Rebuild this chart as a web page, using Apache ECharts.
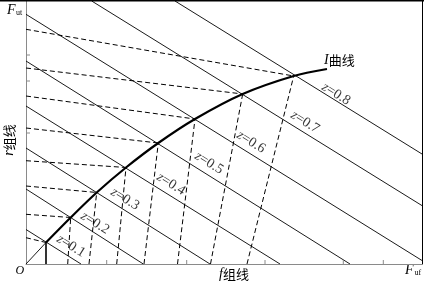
<!DOCTYPE html>
<html><head><meta charset="utf-8">
<script src="https://cdn.jsdelivr.net/npm/echarts@6/dist/echarts.min.js"></script>
<style>html,body{margin:0;padding:0;background:#fff}#c{width:424px;height:288px}</style>
</head><body><div id="c"></div>
<script>
// z values of the family of parallel lines
const zValues = ['0.1','0.2','0.3','0.4','0.5','0.6','0.7','0.8'];
// I-curve points (intersection with each z line)
const curveX = [20, 44.7, 70.7, 100, 132.3, 169, 216.7, 267.7];
const curveY = [21.5, 46.5, 71.5, 96.5, 121, 145, 170, 188];
const curveEnd = [301, 195];
// f-group line feet on the horizontal axis
const fFootX = [20, 41.7, 63, 90.7, 118, 151.5, 184.5, 221];
// r-group line feet on the vertical axis
const rFootY = [26.3, 49.7, 78, 103.3, 136, 168, 196, 234.7];
// z lines: start and end points
const zStart = [[0,34.5],[0,75],[0,116],[0,158],[0,203],[0,249.7],[65.7,263],[149,263]];
const zEnd = [[55,0],[117.3,0],[184,0],[254,0],[324,0],[396,3.5],[396,58.4],[396,110]];
// z label anchor points
const zLabelPos = [[45,18],[69,41],[99,65],[145,80],[183,101],[225,122],[279,142],[310,170]];
// tick marks on axes
const xTicks = [80.7,160.7,239,317.3,357.3];
const yTicks = [209,183,131];

const serif = '"Liberation Serif","Noto Sans CJK SC",serif';
const series = [];
function seg(data, lineStyle, extra){
  series.push(Object.assign({type:'line', data:data, symbol:'none', silent:true, animation:false, lineStyle:lineStyle, z:2}, extra||{}));
}
const thin = {color:'#000', width:0.9, type:'solid'};
const dash = {color:'#000', width:1, type:[5,3]};
const gray = {color:'#8a8a8a', width:1};

for (let i=0;i<zValues.length;i++){
  seg([zStart[i], zEnd[i]], thin);
  seg([[fFootX[i],0],[curveX[i],curveY[i]]], i===0 ? {color:'#000',width:1.6,type:'solid'} : dash);
  seg([[0,rFootY[i]],[curveX[i],curveY[i]]], dash);
}
xTicks.forEach(t=>seg([[t,0],[t,4]], gray));
yTicks.forEach(t=>seg([[0,t],[4,t]], gray));
seg([[0,0],[curveX[0],curveY[0]]], thin);
const curve = curveX.map((x,i)=>[x,curveY[i]]); curve.push(curveEnd);
seg(curve, {color:'#000', width:2.2}, {smooth:0.3, z:5});

series.push({
  type:'scatter', data:zLabelPos, symbol:'circle', symbolSize:2, itemStyle:{color:'rgba(0,0,0,0)'}, silent:true, animation:false, z:6,
  labelLayout:{hideOverlap:false},
  label:{show:true, position:'inside', rotate:-32, color:'#000',
    formatter:p=>'{i|z}{n|=' + zValues[p.dataIndex] + '}',
    rich:{i:{fontFamily:serif, fontStyle:'italic', fontSize:14, color:'#000'},
          n:{fontFamily:serif, fontSize:14, color:'#000'}}}
});

const chart = echarts.init(document.getElementById('c'), null, {renderer:'canvas'});
const axisCommon = {type:'value', axisTick:{show:false}, axisLabel:{show:false}, splitLine:{show:false}};
chart.setOption({
  animation:false,
  backgroundColor:'#fff',
  grid:{left:26, right:2, top:0, bottom:24, containLabel:false},
  xAxis:[Object.assign({min:0, max:396, axisLine:{show:true, onZero:false, lineStyle:{color:'#8a8a8a', width:1}}}, axisCommon)],
  yAxis:[Object.assign({min:0, max:264, axisLine:{show:true, onZero:false, lineStyle:{color:'#8a8a8a', width:1}}}, axisCommon),
         Object.assign({min:0, max:264, position:'right', axisLine:{show:true, onZero:false, lineStyle:{color:'#000', width:1}}}, axisCommon)],
  series:series,
  graphic:[
    {type:'line', shape:{x1:0,y1:0.8,x2:424,y2:0.8}, style:{stroke:'#000', lineWidth:1.6}, z:10},
    {type:'text', style:{text:'F', x:7, y:17, fontFamily:serif, fontStyle:'italic', fontSize:14, fill:'#000', verticalAlign:'bottom'}},
    {type:'text', style:{text:'ut', x:16, y:17, fontFamily:serif, fontSize:8, fill:'#000', verticalAlign:'bottom'}},
    {type:'text', style:{text:'O', x:15.5, y:277, fontFamily:serif, fontStyle:'italic', fontSize:12, fill:'#000', verticalAlign:'bottom'}},
    {type:'text', style:{text:'F', x:405, y:277, fontFamily:serif, fontStyle:'italic', fontSize:14, fill:'#000', verticalAlign:'bottom'}},
    {type:'text', style:{text:'uf', x:414.5, y:277, fontFamily:serif, fontSize:8, fill:'#000', verticalAlign:'bottom'}},
    {type:'text', style:{text:'{i|f}{c|组线}', x:234, y:274, align:'center', verticalAlign:'middle',
      rich:{i:{fontFamily:serif, fontStyle:'italic', fontSize:14, fill:'#000'}, c:{fontFamily:'"Noto Sans CJK SC"', fontSize:13, fill:'#000'}}}},
    {type:'text', x:9, y:140, rotation:Math.PI/2, style:{text:'{i|r}{c|组线}', x:0, y:0, align:'center', verticalAlign:'middle',
      rich:{i:{fontFamily:serif, fontStyle:'italic', fontSize:14, fill:'#000'}, c:{fontFamily:'"Noto Sans CJK SC"', fontSize:13, fill:'#000'}}}},
    {type:'text', style:{text:'{i|I}{c|曲线}', x:324, y:60, align:'left', verticalAlign:'middle',
      rich:{i:{fontFamily:serif, fontStyle:'italic', fontSize:14, fill:'#000'}, c:{fontFamily:'"Noto Sans CJK SC"', fontSize:13, fill:'#000'}}}}
  ]
});
</script>
</body></html>
